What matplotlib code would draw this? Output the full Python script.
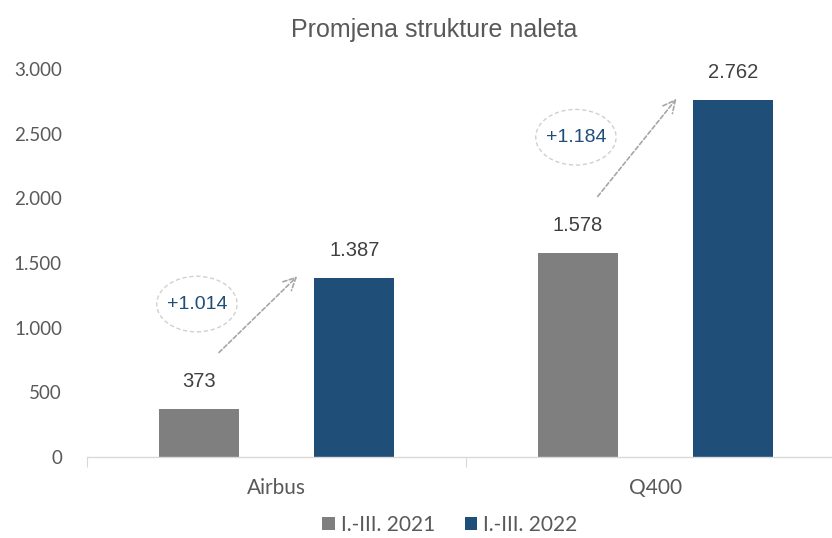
import matplotlib
matplotlib.use("Agg")
import matplotlib.pyplot as plt
from matplotlib.patches import Ellipse
import numpy as np

categories = ["Airbus", "Q400"]
series_names = ["I.-III. 2021", "I.-III. 2022"]
values_2021 = [373, 1578]
values_2022 = [1387, 2762]
diff_labels = ["+1.014", "+1.184"]
yticks = [0, 500, 1000, 1500, 2000, 2500, 3000]
ytick_labels = ["0", "500", "1.000", "1.500", "2.000", "2.500", "3.000"]
bar_labels_2021 = ["373", "1.578"]
bar_labels_2022 = ["1.387", "2.762"]
title = "Promjena strukture naleta"

GRAY = "#7F7F7F"
BLUE = "#1F4E79"
TXT = "#595959"

fig = plt.figure(figsize=(8.32, 5.38), dpi=100)
ax = fig.add_axes([87/832, 1 - 457/538, 758/832, (457-69)/538])

x = np.arange(len(categories))
off = 0.205
w = 0.21
ax.bar(x - off, values_2021, w, color=GRAY, label=series_names[0], zorder=2)
ax.bar(x + off, values_2022, w, color=BLUE, label=series_names[1], zorder=2)

ax.set_xlim(-0.5, 1.5)
ax.set_ylim(0, 3000)

for s in ["top", "right", "left"]:
    ax.spines[s].set_visible(False)
ax.spines["bottom"].set_color("#D9D9D9")
ax.spines["bottom"].set_linewidth(1.0)

tick_font = ["Lato", "DejaVu Sans"]
ax.set_yticks(yticks)
ax.set_yticklabels(ytick_labels, fontsize=13.5, color=TXT, family=tick_font)
ax.tick_params(axis="y", length=0, pad=18)

ax.set_xticks([-0.5, 0.5, 1.5])
ax.set_xticklabels([])
ax.tick_params(axis="x", which="major", length=7, color="#D9D9D9", direction="out")
ax.set_xticks(x, minor=True)
ax.set_xticklabels(categories, minor=True, fontsize=15, color=TXT, family=tick_font)
ax.tick_params(axis="x", which="minor", length=0, pad=15)

lab_font = ["Liberation Sans", "DejaVu Sans"]
for i in range(len(categories)):
    ax.text(x[i] - off, values_2021[i] + 210, bar_labels_2021[i], ha="center", va="center",
            fontsize=14.5, color="#404040", family=lab_font)
    ax.text(x[i] + off, values_2022[i] + 210, bar_labels_2022[i], ha="center", va="center",
            fontsize=14.5, color="#404040", family=lab_font)
    # arrow
    y0 = values_2021[i] + 420
    y1 = values_2022[i] + 25
    ax.annotate("", xy=(x[i] + 0.06, y1), xytext=(x[i] - 0.157, y0),
                arrowprops=dict(arrowstyle="->", color="#A6A6A6", lw=1.2,
                                linestyle=(0, (2.5, 1.5)), mutation_scale=22),
                annotation_clip=False)
    ey = (y0 + y1) / 2 + 80
    ex = x[i] - 0.21
    ax.add_patch(Ellipse((ex, ey), 0.212, 430, fill=False, edgecolor="#D0D0D0",
                         lw=1.0, linestyle=(0, (3, 2)), zorder=3))
    ax.text(ex, ey, diff_labels[i], ha="center", va="center", fontsize=14,
            color=BLUE, family=lab_font)

fig.text(434/832, 1 - 30/538, title, ha="center", va="center", fontsize=18,
         color=TXT, family=lab_font)

leg = fig.legend(loc="center", bbox_to_anchor=(450/832, 1 - 525/538), ncol=2, frameon=False,
                 prop={"family": tick_font, "size": 15},
                 handlelength=0.6, handleheight=0.6, handletextpad=0.3, columnspacing=1.4)
for t in leg.get_texts():
    t.set_color(TXT)

fig.savefig("out.png", dpi=100)
